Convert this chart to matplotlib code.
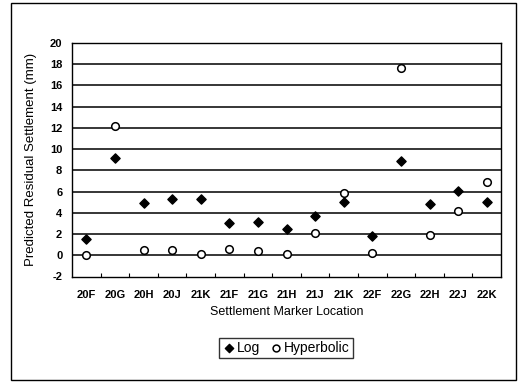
import numpy as np
import matplotlib.pyplot as plt
from matplotlib.patches import Rectangle

plt.rcParams['font.family'] = ['Liberation Sans', 'DejaVu Sans']
plt.rcParams['axes.unicode_minus'] = False

# data
locations = ['20F', '20G', '20H', '20J', '21K', '21F', '21G', '21H',
             '21J', '21K', '22F', '22G', '22H', '22J', '22K']
log_vals = [1.5, 9.2, 4.9, 5.3, 5.3, 3.0, 3.15, 2.5, 3.7, 5.0, 1.85, 8.9, 4.8, 6.1, 5.0]
hyp_vals = [0.0, 12.2, 0.45, 0.5, 0.15, 0.6, 0.4, 0.1, 2.1, 5.9, 0.2, 17.6, 1.95, 4.2, 6.9]

fig = plt.figure(figsize=(5.18, 3.82), dpi=100)
ax = fig.add_axes([72/518, 1 - 276.5/382, 429/518, 233.5/382])

x = np.arange(len(locations))
ax.scatter(x, log_vals, marker='D', s=22, color='black', label='Log', zorder=3)
ax.scatter(x, hyp_vals, marker='o', s=30, facecolor='white', edgecolor='black',
           linewidth=1.1, label='Hyperbolic', zorder=3)

ax.set_xlim(-0.5, len(locations) - 0.5)
ax.set_ylim(-2, 20)
ax.set_yticks(np.arange(-2, 21, 2))
ax.set_xticks(x)
ax.set_xticklabels(locations, fontsize=8, fontweight='bold')
ax.tick_params(axis='y', labelsize=8, length=0, pad=7)
ax.tick_params(axis='x', length=0, pad=10)
for lbl in ax.get_yticklabels():
    lbl.set_fontweight('bold')
ax.set_xticks(np.arange(0.5, len(locations) - 1, 1), minor=True)
ax.tick_params(axis='x', which='minor', length=3, direction='in', width=0.8)
for yv in np.arange(0, 20, 2):
    ax.axhline(yv, color='black', linewidth=1.1, zorder=1)
for sp in ax.spines.values():
    sp.set_linewidth(1.0)

ax.set_xlabel('Settlement Marker Location', fontsize=9, labelpad=4)
ax.set_ylabel('Predicted Residual Settlement (mm)', fontsize=9.5, labelpad=9)

leg = fig.legend(loc='center', bbox_to_anchor=(286/518, 1 - 348/382), ncol=2,
                 fontsize=10, frameon=True, fancybox=False, edgecolor='black',
                 handletextpad=0.1, columnspacing=0.6, borderpad=0.25,
                 handlelength=1.0, markerscale=0.9)
leg.get_frame().set_linewidth(1.0)

fig.patches.append(Rectangle((11/518, 2/382), 505/518, 377/382, transform=fig.transFigure,
                             fill=False, edgecolor='black', linewidth=1.0))

plt.savefig('out.png', dpi=100)
